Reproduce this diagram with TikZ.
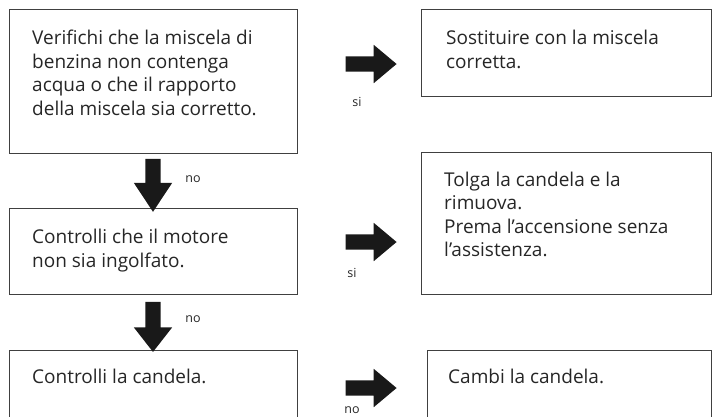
\documentclass[tikz,border=0pt]{standalone}
\usepackage{fontspec}
\setmainfont{Open Sans}
\usetikzlibrary{shapes.arrows,positioning}
\tikzset{
  stepbox/.style={draw=black!75, line width=0.9pt, anchor=north west, inner sep=0pt},
  boxtext/.style={align=left, inner sep=0pt, text=black!85, font=\fontsize{19}{23.5}\selectfont},
  fatarrow/.style={single arrow, fill=black!90, draw=none, inner sep=7.5pt,
    single arrow head extend=11.5pt, minimum height=51pt, single arrow tip angle=80},
  answer/.style={inner sep=0pt, text=black!85, font=\fontsize{12.5}{14}\selectfont}
}

\begin{document}
\begin{tikzpicture}[x=1pt,y=-1pt]
\useasboundingbox (0,0) rectangle (713,416);

% left column: what to check
\node[stepbox, minimum width=288pt, minimum height=144pt] (check1) at (9,9) {};
\node[stepbox, minimum width=288pt, minimum height=86pt] (check2) at (9,208) {};
\node[stepbox, minimum width=288pt, minimum height=80pt] (check3) at (9,350) {};

% right column: what to do
\node[stepbox, minimum width=290pt, minimum height=87pt] (fix1) at (421,9) {};
\node[stepbox, minimum width=290pt, minimum height=142pt] (fix2) at (421,152) {};
\node[stepbox, minimum width=284pt, minimum height=80pt] (fix3) at (427,350) {};

\node[boxtext, below right=19pt and 23pt of check1.north west] (check1txt)
  {\strut Verifichi che la miscela di\\benzina non contenga\\acqua o che il rapporto\\della miscela sia corretto.};
\node[boxtext, below right=19pt and 23pt of check2.north west] (check2txt)
  {\strut Controlli che il motore\\non sia ingolfato.};
\node[boxtext, below right=16.5pt and 23pt of check3.north west] (check3txt)
  {\strut Controlli la candela.};
\node[boxtext, below right=19pt and 25pt of fix1.north west] (fix1txt)
  {\strut Sostituire con la miscela\\corretta.};
\node[boxtext, below right=17.5pt and 23pt of fix2.north west] (fix2txt)
  {\strut Tolga la candela e la\\rimuova.\\Prema l’accensione senza\\l’assistenza.};
\node[boxtext, below right=16.5pt and 21pt of fix3.north west] (fix3txt)
  {\strut Cambi la candela.};

% arrows between the boxes
\node[fatarrow, rotate=-90, minimum height=53pt, single arrow tip angle=67] (down1) at (153,179.5) {};
\node[fatarrow, rotate=-90, minimum height=50pt, single arrow tip angle=76] (down2) at (153,322) {};
\node[fatarrow] (right1) at (366.5,64) {};
\node[fatarrow] (right2) at (366.5,242) {};
\node[fatarrow] (right3) at (366.5,388) {};

\node[answer] (no1) at (193,179) {no};
\node[answer] (no2) at (193,319) {no};
\node[answer] (si1) at (357,102) {si};
\node[answer] (si2) at (352,273) {si};
\node[answer] (no3) at (352,410) {no};
\end{tikzpicture}
\end{document}
